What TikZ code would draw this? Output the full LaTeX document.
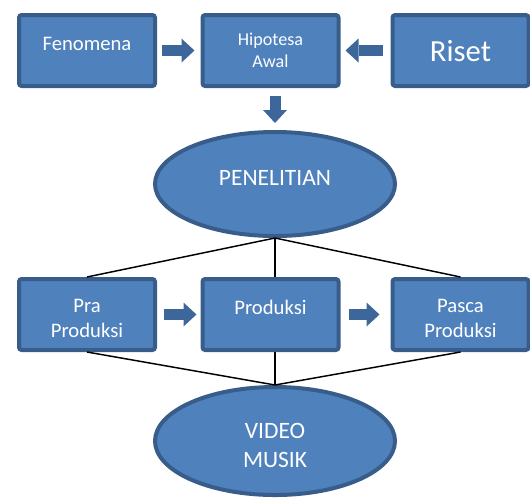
\documentclass[tikz,border=0pt]{standalone}
\usepackage{fontspec}
\setmainfont{Carlito}
\usepackage{xcolor}
\usepackage{tikz}
\usetikzlibrary{arrows.meta, positioning, calc, shapes.geometric}
\definecolor{isibiru}{HTML}{4F81BD}
\definecolor{tepibiru}{HTML}{385D8A}
\definecolor{panahbiru}{HTML}{3D679A}

\begin{document}
\begin{tikzpicture}[
    x=0.75pt, y=-0.75pt,
    kotak/.style={draw=tepibiru, fill=isibiru, line width=3pt, rounded corners=2pt,
                  minimum width=102pt, minimum height=53.25pt, inner sep=0pt,
                  align=center, text=white, text depth=0pt},
    elips/.style={ellipse, draw=tepibiru, fill=isibiru, line width=3pt, minimum width=180pt,
                  inner sep=0pt, align=center, text=white, text depth=0pt},
    panahblok/.style={-{Triangle[length=9.75pt, width=18pt, line width=0pt]},
                      line width=8.25pt, draw=panahbiru},
    garis/.style={line width=1.1pt}
  ]
    \useasboundingbox (0,0) rectangle (530,497);
    % baris atas
    \node[kotak, text height=0pt, font=\fontsize{15.5}{18.5}\selectfont] (fen) at (87,50.5) {Fenomena};
    \node[kotak, text height=25.8pt, font=\fontsize{13.6}{16.3}\selectfont] (hip) at (270.5,50.5) {Hipotesa\\Awal};
    \node[kotak, text height=15.8pt, font=\fontsize{23}{28}\selectfont] (ris) at (460.5,50.5) {Riset};
    \node[elips, minimum height=78pt, text height=1.5pt, font=\fontsize{17.6}{21.75}\selectfont] (pen) at (275,184) {PENELITIAN};
    % baris produksi
    \node[kotak, text height=33.8pt, font=\fontsize{15.5}{18.5}\selectfont] (pra) at (87,314.5) {Pra\\Produksi};
    \node[kotak, text height=0pt, font=\fontsize{15.5}{18.5}\selectfont] (prod) at (270.5,314.5) {Produksi};
    \node[kotak, text height=33.8pt, font=\fontsize{15.5}{18.5}\selectfont] (pas) at (460.5,314.5) {Pasca\\Produksi};
    \node[elips, minimum height=81pt, text height=39pt, font=\fontsize{17.6}{21.75}\selectfont] (vid) at (275,441) {VIDEO\\MUSIK};
    % panah
    \draw[panahblok, shorten <=3.75pt, shorten >=4.5pt] (fen) -- (hip);
    \draw[panahblok, shorten <=6pt, shorten >=3.75pt] (ris) -- (hip);
    \draw[panahblok, shorten <=6pt, shorten >=5.25pt] (hip.south -| pen.north) -- (pen.north);
    \draw[panahblok, shorten <=5.25pt, shorten >=3pt] (pra) -- (prod);
    \draw[panahblok, shorten <=6pt, shorten >=8.25pt] (prod) -- (pas);
    % garis
    \draw[garis] (pen.south) -- (pra.north);
    \draw[garis] (pen.south) -- (pen.south |- prod.north);
    \draw[garis] (pen.south) -- (pas.north);
    \draw[garis] (pra.south) -- (vid.north);
    \draw[garis] (pen.south |- prod.south) -- (vid.north);
    \draw[garis] (pas.south) -- (vid.north);
  \end{tikzpicture}
\end{document}
